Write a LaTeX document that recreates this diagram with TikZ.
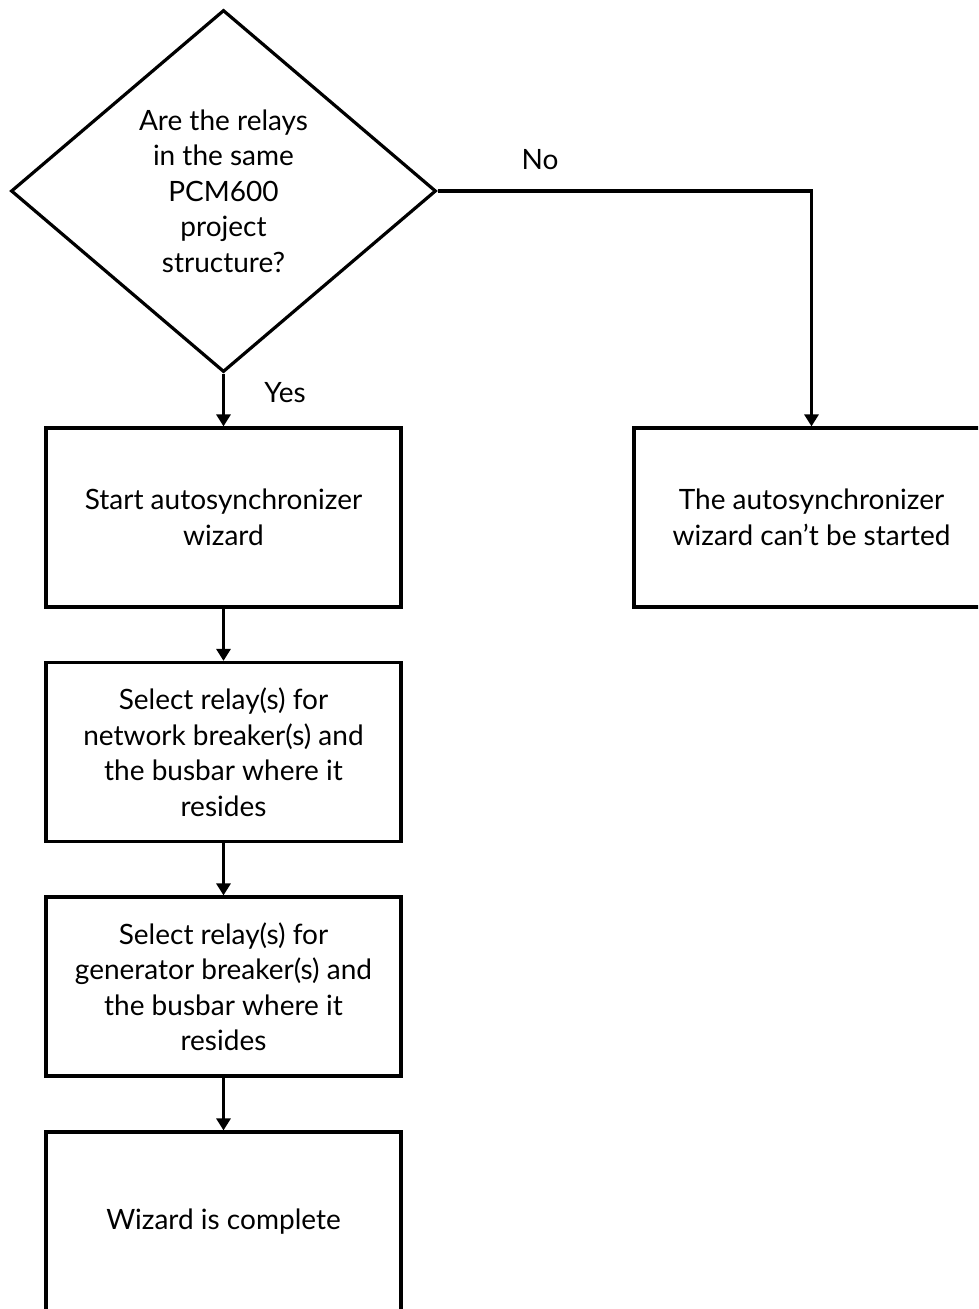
\documentclass[tikz,border=0pt]{standalone}
\usepackage{fontspec}
\setmainfont{Lato}
\usetikzlibrary{shapes.geometric,arrows.meta}

\begin{document}
\begin{tikzpicture}[x=1pt,y=-1pt,
  font=\fontsize{28}{35.5}\selectfont,
  box/.style={rectangle,draw,line width=3.2pt,minimum width=355pt,minimum height=179pt,inner sep=0pt,align=center},
  decision/.style={diamond,draw,line width=3.2pt,minimum width=425pt,minimum height=362pt,inner sep=0pt,align=center},
  flow/.style={line width=3.2pt,-{Triangle[length=12pt,width=14pt]}}]
\path[use as bounding box,clip] (0,0) rectangle (978,1309);

\node[decision] (q) at (223.5,191) {Are the relays\\in the same\\PCM600\\project\\structure?};
\node[box] (start) at (223.5,517.5) {Start autosynchronizer\\wizard};
\node[box] (net) at (223.5,752) {Select relay(s) for\\network breaker(s) and\\the busbar where it\\resides};
\node[box] (gen) at (223.5,986.5) {Select relay(s) for\\generator breaker(s) and\\the busbar where it\\resides};
\node[box] (done) at (223.5,1221.5) {Wizard is complete};
\node[box] (fail) at (811.5,517.5) {The autosynchronizer\\wizard can’t be started};

\draw[flow] (q) -- (start);
\draw[flow] (start) -- (net);
\draw[flow] (net) -- (gen);
\draw[flow] (gen) -- (done);
\draw[flow] (q.east) -| (fail.north);

\node at (540,160) {No};
\node at (285,393) {Yes};
\end{tikzpicture}
\end{document}
